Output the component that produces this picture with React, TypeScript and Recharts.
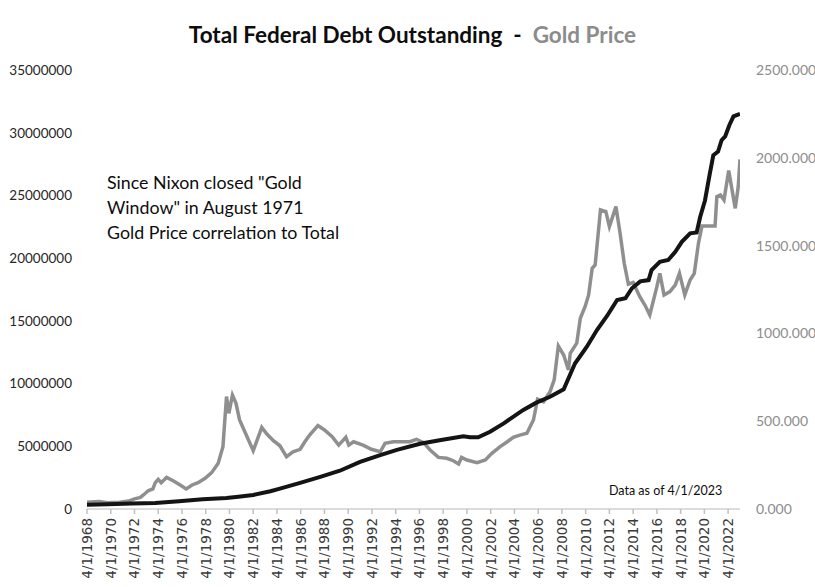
import React from "react";
import { LineChart, Line, XAxis, YAxis } from "recharts";

// Gold price (USD/oz)
const goldDates = [
  1968.25, 1969.25, 1970.0, 1971.0, 1971.75, 1972.25, 1972.75, 1973.0, 1973.4, 1973.8,
  1974.0, 1974.25, 1974.5, 1974.95, 1975.5, 1976.1, 1976.6, 1977.1, 1977.6, 1978.2,
  1978.75, 1979.3, 1979.7, 1980.0, 1980.2, 1980.5, 1980.8, 1981.1, 1981.6, 1982.25,
  1982.97, 1983.4, 1983.95, 1984.5, 1985.05, 1985.6, 1986.2, 1986.6, 1987.0, 1987.7,
  1988.25, 1988.9, 1989.45, 1990.05, 1990.3, 1990.7, 1991.5, 1992.2, 1992.95, 1993.35,
  1994.05, 1994.9, 1995.45, 1996.0, 1996.6, 1997.15, 1997.85, 1998.55, 1999.1, 1999.55,
  1999.8, 2000.25, 2001.1, 2001.8, 2002.35, 2003.05, 2003.65, 2004.15, 2004.7, 2005.3,
  2005.85, 2006.2, 2006.7, 2007.25, 2007.6, 2007.95, 2008.4, 2008.8, 2008.95, 2009.5,
  2009.8, 2010.2, 2010.5, 2010.8, 2011.05, 2011.5, 2011.95, 2012.25, 2012.8, 2013.15,
  2013.5, 2013.85, 2014.25, 2014.8, 2015.25, 2015.65, 2016.25, 2016.5, 2016.85, 2017.35,
  2017.8, 2018.15, 2018.6, 2019.05, 2019.4, 2019.75, 2020.05, 2020.6, 2021.15, 2021.3,
  2021.6, 2021.9, 2022.3, 2022.85, 2023.1, 2023.25,
];
const goldPrice = [
  38, 42, 35, 39, 45, 58, 66, 80, 104, 114,
  150, 169, 150, 180, 161, 137, 114, 137, 150, 175,
  207, 260, 355, 640, 545, 649, 602, 507, 431, 332,
  465, 427, 389, 360, 298, 326, 340, 383, 421, 475,
  450, 412, 364, 408, 364, 383, 364, 340, 326, 374,
  383, 383, 383, 397, 378, 336, 294, 289, 275, 256,
  294, 279, 264, 279, 317, 355, 383, 408, 421, 431,
  507, 625, 611, 668, 735, 928, 877, 792, 887, 944,
  1086, 1152, 1219, 1371, 1390, 1703, 1693, 1608, 1722, 1570,
  1399, 1280, 1290, 1210, 1160, 1105, 1266, 1342, 1219, 1238,
  1276, 1342, 1219, 1304, 1342, 1513, 1612, 1612, 1612, 1779,
  1788, 1760, 1927, 1712, 1835, 1991,
];

// Total federal debt outstanding (millions USD)
const debtDates = [
  1968.25, 1970.0, 1972.0, 1974.0, 1976.0, 1978.0, 1980.0, 1981.0, 1982.25, 1983.7,
  1984.5, 1986.2, 1987.9, 1989.55, 1991.25, 1992.95, 1994.35, 1996.3, 1997.95, 1999.95,
  2000.5, 2001.2, 2002.2, 2003.35, 2005.0, 2006.1, 2007.25, 2008.4, 2009.35, 2010.35,
  2011.2, 2012.05, 2012.9, 2013.6, 2014.15, 2014.85, 2015.55, 2015.8, 2016.5, 2017.2,
  2017.8, 2018.35, 2019.05, 2019.6, 2019.9, 2020.3, 2020.7, 2021.0, 2021.4, 2021.7,
  2022.0, 2022.35, 2022.7, 2023.25,
];
const debtValues = [
  340000, 370000, 430000, 480000, 620000, 780000, 880000, 980000, 1120000, 1420000,
  1620000, 2080000, 2560000, 3050000, 3750000, 4300000, 4720000, 5200000, 5480000, 5800000,
  5720000, 5720000, 6160000, 6830000, 7900000, 8480000, 8950000, 9540000, 11600000, 12940000,
  14270000, 15390000, 16660000, 16800000, 17600000, 18150000, 18250000, 19050000, 19700000, 19850000,
  20500000, 21300000, 21980000, 22050000, 23300000, 24600000, 26700000, 28200000, 28500000, 29400000,
  29700000, 30600000, 31300000, 31500000,
];

const xTicks = [
  1968.25, 1970.25, 1972.25, 1974.25, 1976.25, 1978.25, 1980.25, 1982.25, 1984.25, 1986.25,
  1988.25, 1990.25, 1992.25, 1994.25, 1996.25, 1998.25, 2000.25, 2002.25, 2004.25, 2006.25,
  2008.25, 2010.25, 2012.25, 2014.25, 2016.25, 2018.25, 2020.25, 2022.25,
];
const debtTicks = [0, 5000000, 10000000, 15000000, 20000000, 25000000, 30000000, 35000000];
const goldTicks = [0, 500, 1000, 1500, 2000, 2500];

const goldData = goldDates.map((d, i) => ({ date: d, gold: goldPrice[i] }));
const debtData = debtDates.map((d, i) => ({ date: d, debt: debtValues[i] }));

const FONT = "Lato, 'Open Sans', sans-serif";

const XTick = (props: any) => {
  const { x, y, payload } = props;
  return (
    <g transform={`translate(${x},${y})`}>
      <text
        transform="rotate(-90)"
        x={-2}
        y={0}
        dy="0.36em"
        textAnchor="end"
        fontFamily="'DejaVu Sans', Verdana, sans-serif"
        fontSize={13.5}
        fill="#3a3a3a"
      >
        {`4/1/${Math.floor(payload.value)}`}
      </text>
    </g>
  );
};

export default function App() {
  return (
    <div style={{ position: "absolute", left: 0, top: 0, width: 815, height: 587, background: "#fff" }}>
      <LineChart width={815} height={587} margin={{ top: 70, right: 0, bottom: 0, left: 0 }}>
        <XAxis
          xAxisId="x"
          dataKey="date"
          type="number"
          domain={[1968.25, 2023.25]}
          ticks={xTicks}
          allowDataOverflow
          height={78}
          stroke="#d0d0d0"
          strokeWidth={1.5}
          tickSize={5}
          tickLine={{ stroke: "#c0c0c0" }}
          tick={<XTick />}
          interval={0}
        />
        <YAxis
          yAxisId="debt"
          orientation="left"
          width={87}
          domain={[0, 35000000]}
          ticks={debtTicks}
          axisLine={false}
          tickLine={false}
          tickSize={6}
          tickMargin={9}
          tickFormatter={(v: number) => String(v)}
          tick={{ fill: "#262626", fontSize: 13.5, fontFamily: FONT }}
        />
        <YAxis
          yAxisId="gold"
          orientation="right"
          width={75}
          domain={[0, 2500]}
          ticks={goldTicks}
          axisLine={false}
          tickLine={false}
          tickSize={6}
          tickMargin={10}
          tickFormatter={(v: number) => v.toFixed(3)}
          tick={{ fill: "#8c8c8c", fontSize: 14, fontFamily: FONT }}
        />
        <Line
          xAxisId="x"
          yAxisId="gold"
          data={goldData}
          dataKey="gold"
          type="linear"
          stroke="#8f8f8f"
          strokeWidth={3.5}
          dot={false}
          activeDot={false}
          isAnimationActive={false}
        />
        <Line
          xAxisId="x"
          yAxisId="debt"
          data={debtData}
          dataKey="debt"
          type="linear"
          stroke="#141414"
          strokeWidth={4}
          dot={false}
          activeDot={false}
          isAnimationActive={false}
        />
      </LineChart>
      <div
        style={{
          position: "absolute",
          left: 0,
          width: 815,
          top: 20,
          textAlign: "center",
          fontFamily: FONT,
          fontWeight: 700,
          fontSize: 22.5,
          lineHeight: "30px",
          color: "#0d0d0d",
          whiteSpace: "pre",
          paddingLeft: 5,
        }}
      >
        {"Total Federal Debt Outstanding  -  "}
        <span style={{ color: "#8c8c8c" }}>Gold Price</span>
      </div>
      <div
        style={{
          position: "absolute",
          left: 107,
          top: 170,
          fontFamily: FONT,
          fontSize: 17.8,
          lineHeight: "25px",
          color: "#0d0d0d",
        }}
      >
        <div>Since Nixon closed "Gold</div>
        <div>Window" in August 1971</div>
        <div>Gold Price correlation to Total</div>
      </div>
      <div
        style={{
          position: "absolute",
          left: 609,
          top: 482,
          fontFamily: FONT,
          fontSize: 12.5,
          lineHeight: "17px",
          color: "#0d0d0d",
        }}
      >
        Data as of 4/1/2023
      </div>
    </div>
  );
}
